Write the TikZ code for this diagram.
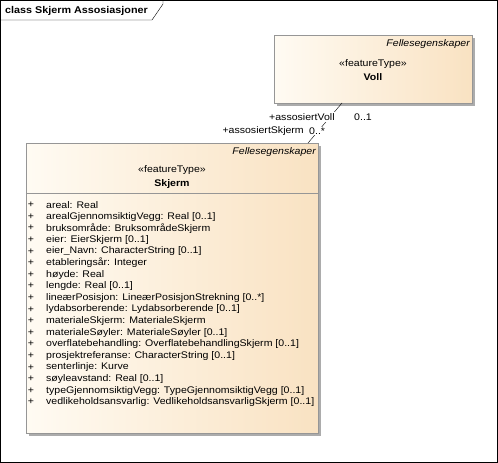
\documentclass[tikz,border=0pt]{standalone}
\usepackage{fontspec}
\setmainfont{Liberation Sans}[FakeStretch=1.1]
\usetikzlibrary{shadows}
\definecolor{boxleft}{RGB}{255,251,243}
\definecolor{boxright}{RGB}{249,226,194}
\definecolor{shadowgray}{RGB}{172,172,172}
\definecolor{framegray}{RGB}{150,150,150}
\tikzset{
	umlbox/.style={
		draw=framegray,
		left color=boxleft,
		right color=boxright,
		drop shadow={shadow xshift=3pt, shadow yshift=-3pt, fill=shadowgray, opacity=1},
		inner sep=0pt
	},
	txt/.style={
		font=\fontsize{9.6}{11}\selectfont,
		inner sep=0pt
	},
	rolle/.style={
		txt,
		fill=white,
		inner sep=1pt
	}
}

\begin{document}
\begin{tikzpicture}[x=1pt, y=-1pt]
\useasboundingbox (0,0) rectangle (498,463);
\draw (0.5,0.5) rectangle (497,462);
\draw (0.5,20) -- (152,20) -- (163,4) -- (163,0.5);
\node[txt, anchor=west, font=\bfseries\fontsize{9.8}{11}\selectfont] (tittel) at (5,10.5) {class Skjerm Assosiasjoner};

% klassene
\node[umlbox, minimum width=198pt, minimum height=68pt] (voll) at (373,69) {};
\node[umlbox, minimum width=292pt, minimum height=290pt] (skjerm) at (172,288) {};
\draw[framegray] (skjerm.west |- 0,193) -- (skjerm.east |- 0,193);

\node[txt, anchor=east, font=\itshape\fontsize{9.6}{11}\selectfont] (vollpakke) at (470,44.5) {Fellesegenskaper};
\node[txt] (vollstereo) at (373,64.5) {«featureType»};
\node[txt, font=\bfseries\fontsize{9.6}{11}\selectfont] (vollnavn) at (373,77) {Voll};

\node[txt, anchor=east, font=\itshape\fontsize{9.6}{11}\selectfont] (skjermpakke) at (316,152.5) {Fellesegenskaper};
\node[txt] (skjermstereo) at (172,170.5) {«featureType»};
\node[txt, font=\bfseries\fontsize{9.6}{11}\selectfont] (skjermnavn) at (172,184) {Skjerm};

\foreach \a [count=\i from 0] in {areal: Real, arealGjennomsiktigVegg: Real [0..1], bruksområde: BruksområdeSkjerm, eier: EierSkjerm [0..1], eier\_Navn: CharacterString [0..1], etableringsår: Integer, høyde: Real, lengde: Real [0..1], lineærPosisjon: LineærPosisjonStrekning [0..*], lydabsorberende: Lydabsorberende [0..1], materialeSkjerm: MaterialeSkjerm, materialeSøyler: MaterialeSøyler [0..1], overflatebehandling: OverflatebehandlingSkjerm [0..1], prosjektreferanse: CharacterString [0..1], senterlinje: Kurve, søyleavstand: Real [0..1], typeGjennomsiktigVegg: TypeGjennomsiktigVegg [0..1], vedlikeholdsansvarlig: VedlikeholdsansvarligSkjerm [0..1]} {
	\node[txt] (p\i) at (31,205+11.6*\i) {+};
	\node[txt, anchor=west] (a\i) at (46,205+11.6*\i) {\a};
}

% assosiasjonen
\coordinate (vollende) at (342,103);
\coordinate (skjermende) at (308,143);
\draw (vollende) -- (skjermende);
\node[rolle, anchor=west] (rollevoll) at (268,117) {+assosiertVoll};
\node[rolle, anchor=west] (multvoll) at (353,117) {0..1};
\node[rolle, anchor=east] (rolleskjerm) at (305,131) {+assosiertSkjerm};
\node[rolle, anchor=west] (multskjerm) at (308,131) {0..*};
\end{tikzpicture}
\end{document}
